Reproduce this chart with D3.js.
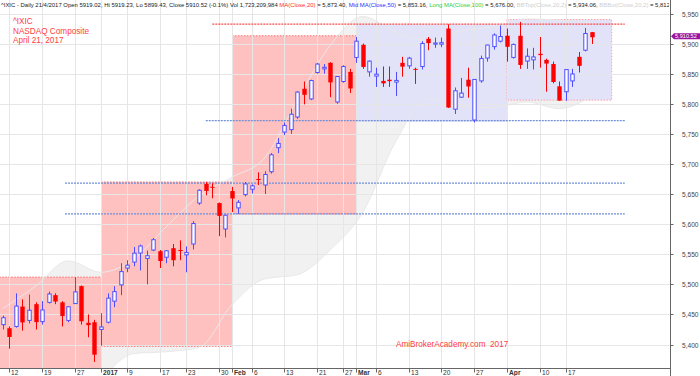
<!DOCTYPE html>
<html>
<head>
<meta charset="utf-8">
<script src="https://cdn.jsdelivr.net/npm/d3@7"></script>
<style>
  html, body { margin: 0; padding: 0; background: #fff; }
  svg { display: block; font-family: "Liberation Sans", Arial, sans-serif; }
</style>
</head>
<body>
<div id="chart"></div>
<script>
// trading days shown, Dec 9 2016 .. Apr 21 2017
const days = [
  "2016-12-09","2016-12-12","2016-12-13","2016-12-14","2016-12-15","2016-12-16","2016-12-19","2016-12-20",
  "2016-12-21","2016-12-22","2016-12-23","2016-12-27","2016-12-28","2016-12-29","2016-12-30",
  "2017-01-03","2017-01-04","2017-01-05","2017-01-06","2017-01-09","2017-01-10","2017-01-11","2017-01-12",
  "2017-01-13","2017-01-17","2017-01-18","2017-01-19","2017-01-20","2017-01-23","2017-01-24","2017-01-25",
  "2017-01-26","2017-01-27","2017-01-30","2017-01-31",
  "2017-02-01","2017-02-02","2017-02-03","2017-02-06","2017-02-07","2017-02-08","2017-02-09","2017-02-10",
  "2017-02-13","2017-02-14","2017-02-15","2017-02-16","2017-02-17","2017-02-21","2017-02-22","2017-02-23",
  "2017-02-24","2017-02-27","2017-02-28",
  "2017-03-01","2017-03-02","2017-03-03","2017-03-06","2017-03-07","2017-03-08","2017-03-09","2017-03-10",
  "2017-03-13","2017-03-14","2017-03-15","2017-03-16","2017-03-17","2017-03-20","2017-03-21","2017-03-22",
  "2017-03-23","2017-03-24","2017-03-27","2017-03-28","2017-03-29","2017-03-30","2017-03-31",
  "2017-04-03","2017-04-04","2017-04-05","2017-04-06","2017-04-07","2017-04-10","2017-04-11","2017-04-12",
  "2017-04-13","2017-04-17","2017-04-18","2017-04-19","2017-04-20","2017-04-21"
];

const openP = [
  5433,5427,5430,5463,5440,5467,5438,5470,5482,5470,5440,5468,5497,5436,5437,
  5425,5437,5472,5499,5527,5537,5552,5543,5557,5555,5545,5560,5557,5549,5567,5635,5667,5662,5635,5592,
  5655,5627,5649,5658,5675,5665,5687,5727,5753,5757,5778,5825,5808,5852,5858,5868,5803,5837,5853,
  5877,5898,5853,5846,5838,5840,5836,5868,5863,5858,5862,5908,5899,5899,5925,5791,5811,5840,5773,5838,5876,5895,5904,
  5913,5877,5913,5871,5873,5883,5873,5866,5829,5820,5838,5878,5889,5919.02
];
const highP = [
  5448,5430,5485,5475,5483,5470,5472,5488,5485,5472,5463,5512,5498,5450,5441,
  5452,5485,5497,5535,5540,5562,5566,5556,5577,5557,5557,5567,5573,5563,5605,5658,5670,5668,5636,5616,
  5662,5640,5670,5666,5686,5688,5718,5743,5769,5792,5821,5837,5840,5868,5866,5869,5846,5864,5858,
  5911,5900,5872,5860,5862,5862,5853,5878,5878,5860,5904,5911,5910,5910,5932,5827,5843,5860,5841,5880,5898,5917,5930,
  5925,5900,5936,5892,5893,5911,5875,5870,5837,5857,5858,5886,5926,5919.23
];
const lowP = [
  5425,5393,5428,5423,5435,5425,5433,5468,5467,5430,5437,5468,5433,5412,5371,
  5398,5435,5462,5482,5520,5530,5523,5500,5555,5527,5535,5530,5540,5520,5558,5632,5648,5643,5580,5578,
  5620,5617,5646,5651,5665,5650,5684,5718,5748,5750,5775,5799,5806,5850,5850,5811,5800,5835,5818,
  5868,5858,5845,5828,5828,5828,5813,5845,5858,5833,5857,5889,5893,5894,5793,5783,5810,5810,5769,5835,5870,5890,5902,
  5870,5875,5858,5858,5857,5860,5820,5834,5805,5805,5828,5852,5887,5899.43
];
const closeP = [
  5444.5,5412.5,5463.8,5436.7,5456.9,5437.2,5457.4,5483.9,5471.4,5447.4,5462.7,5487.4,5438.6,5432.1,5383.1,
  5429.1,5477.0,5487.9,5521.1,5531.8,5551.8,5563.7,5547.5,5574.1,5538.7,5555.7,5540.1,5555.3,5552.9,5601.0,
  5656.3,5655.2,5660.8,5613.7,5614.8,
  5642.7,5636.2,5666.8,5663.6,5674.2,5682.5,5715.2,5734.1,5764.0,5782.6,5819.4,5814.9,5838.6,5866.0,5860.6,
  5835.5,5845.3,5861.9,5825.4,
  5904.0,5861.2,5870.8,5849.2,5833.9,5837.6,5838.8,5861.7,5875.8,5856.8,5900.1,5900.8,5901.0,5901.5,5793.8,
  5821.6,5817.7,5828.7,5840.4,5875.1,5897.6,5914.3,5911.7,
  5894.7,5898.6,5864.5,5879.0,5877.8,5880.9,5866.8,5836.2,5805.2,5856.8,5849.5,5863.0,5916.8,5910.52
];

const bbBar   = [0, 5, 10, 15, 20, 25, 30, 35, 40, 45, 50, 55, 60, 65, 70, 75, 80, 85, 90];
const bbUpper = [5460,5497,5539,5520,5542,5596,5647,5678,5710,5807,5897,5945,5919,5905,5921,5928,5941,5939,5934];
const bbLower = [5210,5257,5261,5340,5385,5388,5395,5466,5509,5516,5557,5620,5737,5809,5795,5794,5803,5792,5813];

// monthly high/low boxes (bar index from..to)
const boxFrom = [-1, 15, 35, 54, 77];
const boxTo   = [15, 35, 54, 77, 93];
const boxHigh = [5512, 5670, 5913, 5932, 5940];
const boxLow  = [5240, 5397, 5617, 5770, 5806];
const boxKind = ["down", "down", "down", "up", "current"];

// horizontal support / resistance levels
const levelValue = [5932.5, 5772, 5668, 5617];
const levelFrom  = [32, 31, 9.5, 9.5];
const levelTo    = [95, 95, 95, 95];
const levelKind  = ["res", "sup", "sup", "sup"];

// x axis ticks
const tickDays = ["2016-12-12","2016-12-19","2016-12-27","2017-01-03","2017-01-09","2017-01-17","2017-01-23",
  "2017-01-30","2017-02-01","2017-02-06","2017-02-13","2017-02-21","2017-02-27","2017-03-01","2017-03-06",
  "2017-03-13","2017-03-20","2017-03-27","2017-04-03","2017-04-10","2017-04-17"];
const tickText = ["12","19","27","2017","9","17","23","30","Feb","6","13","21","27","Mar","6","13","20","27","Apr","10","17"];
const tickBold = ["2017", "Feb", "Mar", "Apr"];
const priceTicks = [5400,5450,5500,5550,5600,5650,5700,5750,5800,5850,5900,5950];

const headParts = [
  ["^IXIC - Daily 21/4/2017 Open 5919.02, Hi 5919.23, Lo 5899.43, Close 5910.52 (-0.1%) Vol 1,723,209,984 ", "#222"],
  ["MA(Close,20)", "#ff3030"], [" = 5,873.40, ", "#222"],
  ["Mid MA(Close,50)", "#3030ff"], [" = 5,853.16, ", "#222"],
  ["Long MA(Close,100)", "#33cc33"], [" = 5,676.00, ", "#222"],
  ["BBTop(Close,20,2)", "#cfcfcf"], [" = 5,934.06, ", "#222"],
  ["BBBot(Close,20,2)", "#cfcfcf"], [" = 5,812.74", "#222"]
];
const titleLines = ["^IXIC", "NASDAQ Composite", "April 21, 2017"];

const W = 700, H = 376, plotR = 670, plotB = 368;

const svg = d3.select("#chart").append("svg")
  .attr("width", W).attr("height", H);

const x = d3.scaleLinear().domain([0, days.length - 1]).range([2.8, 2.8 + 90 * 6.547]);
const y = d3.scaleLinear().domain([5400, 5950]).range([344.5, 13.5]);

svg.append("defs").append("clipPath").attr("id", "plot")
  .append("rect").attr("x", 0).attr("y", 0).attr("width", plotR).attr("height", plotB);
svg.select("defs").append("clipPath").attr("id", "head")
  .append("rect").attr("x", 0).attr("y", 0).attr("width", plotR - 1).attr("height", 12);

const plot = svg.append("g").attr("clip-path", "url(#plot)");

// bollinger cloud
const bb = bbBar.map((b, i) => ({ b, u: bbUpper[i], l: bbLower[i] }));
plot.append("path")
  .datum(bb)
  .attr("fill", "#f1f1f1")
  .attr("d", d3.area().x(d => x(d.b)).y0(d => y(d.l)).y1(d => y(d.u)).curve(d3.curveMonotoneX));

// monthly boxes
const boxFill = { down: "#ffc0c0", up: "#e2e2f9", current: "#e2e2f9" };
const boxes = boxFrom.map((f, i) => ({ f, t: boxTo[i], hi: boxHigh[i], lo: boxLow[i], kind: boxKind[i] }));
plot.append("g").selectAll("rect")
  .data(boxes)
  .join("rect")
  .attr("x", d => x(d.f))
  .attr("y", d => y(d.hi))
  .attr("width", d => x(d.t) - x(d.f))
  .attr("height", d => y(d.lo) - y(d.hi))
  .attr("fill", d => boxFill[d.kind]);

// dotted box edges
const edges = plot.append("g")
  .attr("fill", "none")
  .attr("stroke-width", 1)
  .attr("stroke-dasharray", "1.5,1.5");
boxes.filter(d => d.kind === "down").forEach(d => {
  [d.hi, d.lo].forEach(v => {
    edges.append("line")
      .attr("x1", x(d.f)).attr("x2", x(d.t))
      .attr("y1", y(v)).attr("y2", y(v))
      .attr("stroke", "#ff6f6f");
  });
});
boxes.filter(d => d.kind === "current").forEach(d => {
  edges.append("rect")
    .attr("x", x(d.f)).attr("y", y(d.hi))
    .attr("width", x(d.t) - x(d.f)).attr("height", y(d.lo) - y(d.hi))
    .attr("stroke", "#ffa0a8");
});

// band lines over the boxes
["u", "l"].forEach(k => {
  plot.append("path")
    .datum(bb)
    .attr("fill", "none")
    .attr("stroke", "#e9e9e9")
    .attr("stroke-width", 1)
    .attr("d", d3.line().x(d => x(d.b)).y(d => y(d[k])).curve(d3.curveMonotoneX));
});

// grid
const tickIdx = tickDays.map(d => days.indexOf(d));
plot.append("g").selectAll("line")
  .data(priceTicks)
  .join("line")
  .attr("x1", 0).attr("x2", plotR)
  .attr("y1", d => Math.round(y(d)) + 0.5).attr("y2", d => Math.round(y(d)) + 0.5)
  .attr("stroke", "#e6e6e6");
plot.append("g").selectAll("line")
  .data(tickIdx)
  .join("line")
  .attr("x1", d => Math.round(x(d)) + 0.5).attr("x2", d => Math.round(x(d)) + 0.5)
  .attr("y1", 0).attr("y2", plotB)
  .attr("stroke", "#e6e6e6");

// support / resistance levels
plot.append("g").selectAll("line")
  .data(levelValue.map((v, i) => ({ v, f: levelFrom[i], t: levelTo[i], kind: levelKind[i] })))
  .join("line")
  .attr("x1", d => x(d.f)).attr("x2", d => x(d.t))
  .attr("y1", d => y(d.v)).attr("y2", d => y(d.v))
  .attr("stroke", d => (d.kind === "res" ? "#ff4a4a" : "#6f8fd8"))
  .attr("stroke-width", 1.3)
  .attr("stroke-dasharray", "2,1");

// candles
const bars = days.map((d, i) => ({ i, o: openP[i], h: highP[i], l: lowP[i], c: closeP[i] }));
const upCol = "#4d4dff", dnCol = "#ff0000", bodyW = 4.4;
const candle = plot.append("g").selectAll("g")
  .data(bars)
  .join("g");
candle.append("line")
  .attr("x1", d => Math.round(x(d.i)) + 0.5).attr("x2", d => Math.round(x(d.i)) + 0.5)
  .attr("y1", d => y(d.h)).attr("y2", d => y(d.l))
  .attr("stroke", d => (d.c >= d.o ? upCol : dnCol))
  .attr("stroke-width", 1);
candle.append("rect")
  .attr("x", d => Math.round(x(d.i)) + 0.5 - bodyW / 2 + (d.c >= d.o ? 0.5 : 0))
  .attr("y", d => y(Math.max(d.o, d.c)))
  .attr("width", d => (d.c >= d.o ? bodyW - 1 : bodyW))
  .attr("height", d => Math.max(1, Math.abs(y(d.o) - y(d.c))))
  .attr("fill", d => (d.c >= d.o ? "#fff" : dnCol))
  .attr("stroke", d => (d.c >= d.o ? upCol : "none"))
  .attr("stroke-width", 1);

// axes
svg.append("line")
  .attr("x1", 0).attr("x2", plotR).attr("y1", plotB + 0.5).attr("y2", plotB + 0.5)
  .attr("stroke", "#666");
svg.append("line")
  .attr("x1", plotR + 0.5).attr("x2", plotR + 0.5).attr("y1", 0).attr("y2", H)
  .attr("stroke", "#666");

const yAx = svg.append("g").attr("font-size", 6.6).attr("fill", "#444");
priceTicks.forEach(v => {
  const yy = Math.round(y(v)) + 0.5;
  yAx.append("line").attr("x1", plotR).attr("x2", plotR + 3.5).attr("y1", yy).attr("y2", yy).attr("stroke", "#666");
  yAx.append("text").attr("x", 682).attr("y", yy + 2.3).text(d3.format(",")(v));
});

const xAx = svg.append("g").attr("font-size", 6.6).attr("fill", "#333");
tickIdx.forEach((b, i) => {
  const xx = Math.round(x(b)) + 0.5;
  xAx.append("line").attr("x1", xx).attr("x2", xx).attr("y1", plotB).attr("y2", plotB + 4.5).attr("stroke", "#666");
  xAx.append("text")
    .attr("x", xx + 1.6).attr("y", 374.8)
    .attr("font-weight", tickBold.includes(tickText[i]) ? "bold" : "normal")
    .text(tickText[i]);
});

// last price marker
const lastY = y(closeP[closeP.length - 1]) - 1;
svg.append("path")
  .attr("d", `M${plotR + 1},${lastY} L${plotR + 4},${lastY - 3} L${W},${lastY - 3} L${W},${lastY + 3} L${plotR + 4},${lastY + 3} Z`)
  .attr("fill", "#9a149a");
svg.append("text")
  .attr("x", plotR + 5).attr("y", lastY + 2)
  .attr("font-size", 5.6).attr("fill", "#fff")
  .text(d3.format(",.2f")(closeP[closeP.length - 1]));

// header line
const head = svg.append("g").attr("clip-path", "url(#head)")
  .append("text").attr("x", 1).attr("y", 7)
  .attr("font-size", 10)
  .style("white-space", "pre");
headParts.forEach(p => head.append("tspan").attr("fill", p[1]).text(p[0]));
const fullHead = headParts.map(p => p[0]).join("");
const cut = fullHead.lastIndexOf("5,81") + 4;
const wCut = head.node().getSubStringLength(0, cut);
head.attr("font-size", 10 * 667 / wCut);

// title
svg.append("g").attr("fill", "#ff4040").attr("font-size", 8.2)
  .selectAll("text")
  .data(titleLines)
  .join("text")
  .attr("x", 13)
  .attr("y", (d, i) => 24 + i * 9.6)
  .text(d => d);

svg.append("text")
  .attr("x", 396).attr("y", 347)
  .attr("font-size", 8.2).attr("fill", "#ff4040")
  .style("white-space", "pre")
  .text("AmiBrokerAcademy.com  2017");
</script>
</body>
</html>
